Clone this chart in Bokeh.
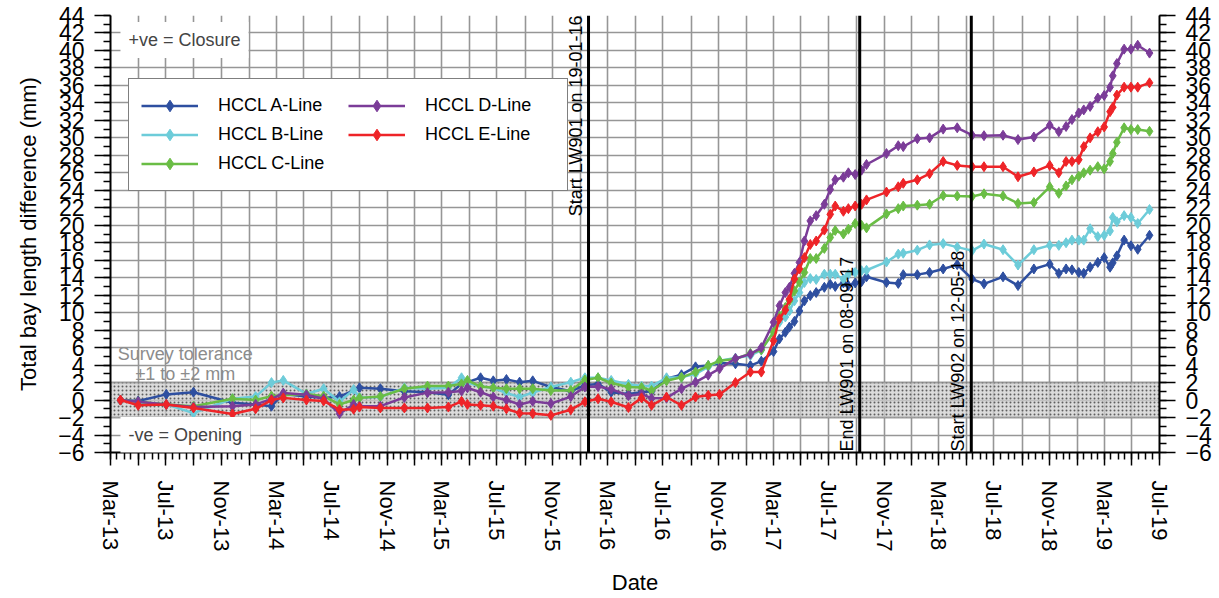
import pandas as pd
from math import pi
from bokeh.plotting import figure
from bokeh.models import (ColumnDataSource, Range1d, FixedTicker, LinearAxis, Span, Label,
                          BoxAnnotation, Legend, LegendItem, CustomJSTickFormatter)
from bokeh.embed import file_html
from bokeh.resources import INLINE

# ---------------- data ----------------
survey_dates = [
    "2013-03-23", "2013-05-01", "2013-07-02", "2013-08-31", "2013-11-25", "2014-01-15", "2014-02-19", "2014-03-17", "2014-05-07", "2014-06-14",
    "2014-07-19", "2014-08-19", "2014-09-01", "2014-10-17", "2014-12-09", "2015-01-29", "2015-03-16", "2015-04-14", "2015-04-27", "2015-05-26",
    "2015-06-23", "2015-07-22", "2015-08-20", "2015-09-18", "2015-10-28", "2015-12-11", "2016-01-11", "2016-02-09", "2016-03-09", "2016-04-16",
    "2016-05-15", "2016-06-06", "2016-07-09", "2016-08-11", "2016-09-11", "2016-10-09", "2016-11-03", "2016-12-08", "2017-01-10", "2017-02-03",
    "2017-03-02", "2017-03-15", "2017-03-28", "2017-04-06", "2017-04-17", "2017-04-28", "2017-05-09", "2017-05-22", "2017-06-04", "2017-06-22",
    "2017-07-05", "2017-07-16", "2017-08-03", "2017-08-14", "2017-08-29", "2017-09-12", "2017-09-23", "2017-11-06", "2017-12-02", "2017-12-13",
    "2018-01-13", "2018-02-09", "2018-03-11", "2018-04-11", "2018-05-14", "2018-06-09", "2018-07-21", "2018-08-23", "2018-09-27", "2018-11-01",
    "2018-11-21", "2018-12-07", "2018-12-20", "2019-01-04", "2019-01-15", "2019-01-29", "2019-02-15", "2019-03-01", "2019-03-14", "2019-03-20",
    "2019-03-29", "2019-04-14", "2019-04-29", "2019-05-14", "2019-06-09",
]

a_line = [0, -0.1, 0.65, 0.9, -0.3, -0.5, -0.7, 0.7, 0.4, 0.25,
          0.4, None, 1.4, 1.3, 1.0, 0.9, 0.6, 1.85, 2.05, 2.55,
          2.2, 2.35, 2.05, 2.2, 1.5, 1.0, 1.7, 1.85, 0.9, 0.7,
          0.9, 1.0, 2.45, 2.9, 3.8, 3.95, 4.25, 4.15, 3.95, 4.45,
          5.55, 7.0, 7.75, 8.35, 9.0, 10.2, 11.35, 11.95, 12.3, 12.9,
          13.25, 13.0, 13.4, 13.1, 13.4, 13.55, 14.1, 13.45, 13.35, 14.35,
          14.35, 14.6, 15.0, 15.5, 13.85, 13.3, 14.1, 13.1, 15.0, 15.55,
          14.5, 15.0, 14.9, 14.6, 14.5, 15.2, 15.75, 16.3, 15.2, 15.7,
          16.5, 18.3, 17.65, 17.25, 18.85]

b_line = [0, -0.3, -0.5, -1.5, 0.15, 0.4, 2.0, 2.25, 0.7, 1.3,
          -0.2, 1.2, 0.3, 0.35, 1.4, 1.3, 1.4, 2.55, 2.0, 1.55,
          1.4, 0.8, 0.35, 0.85, 1.5, 2.05, 2.55, 2.55, 2.25, 1.8,
          1.6, 1.6, 2.55, 2.6, 3.0, 3.8, 4.5, 4.8, 5.1, 5.7,
          7.8, 8.9, 9.5, 10.2, 11.35, 12.3, 13.45, 13.9, 13.8, 14.4,
          14.4, 14.4, 13.85, 14.4, 14.6, 14.8, 14.85, 15.8, 16.7, 16.8,
          17.15, 17.75, 17.9, 17.5, 17.1, 17.85, 17.2, 15.45, 17.2, 17.7,
          17.7, 18.0, 18.3, 18.3, 18.3, 19.6, 18.7, 18.85, 19.35, 20.9,
          20.4, 21.1, 20.9, 20.2, 21.8]

c_line = [0, -0.2, -0.5, -0.7, 0.15, 0.0, 0.45, 0.55, 0.7, 0.45,
          -0.5, 0.0, 0.25, 0.4, 1.3, 1.6, 1.6, 1.85, 2.25, 1.55,
          1.4, 1.3, 1.3, 1.3, 1.1, 1.1, 2.3, 2.55, 1.95, 1.5,
          1.45, 1.1, 2.2, 2.6, 3.2, 3.95, 4.5, 4.7, 5.35, 5.75,
          7.75, 9.65, 10.6, 11.35, 12.5, 13.5, 14.6, 16.2, 16.2, 17.35,
          18.6, 19.4, 19.0, 19.55, 20.2, 20.0, 19.7, 21.3, 21.9, 22.2,
          22.3, 22.4, 23.4, 23.35, 23.3, 23.6, 23.35, 22.5, 22.6, 24.4,
          23.65, 24.5, 25.2, 25.6, 26.0, 26.3, 26.7, 26.45, 27.3, 28.2,
          29.5, 31.15, 30.95, 30.95, 30.75]

d_line = [0, -0.2, -0.5, -0.8, -0.7, -0.5, 0.1, 0.8, 0.6, 0.15,
          -1.55, -0.5, -0.7, -0.7, 0.3, 0.85, 0.9, 1.05, 1.4, 0.9,
          0.35, 0.0, -0.5, -0.15, -0.4, 0.4, 1.5, 1.55, 1.25, 0.5,
          0.7, 0.2, 0.25, 1.3, 2.05, 2.85, 3.6, 4.75, 5.25, 6.0,
          8.9, 10.8, 12.3, 12.9, 14.5, 15.75, 18.2, 20.5, 21.1, 22.4,
          24.1, 25.2, 25.5, 26.0, 25.8, 26.3, 26.95, 28.2, 29.1, 29.0,
          29.9, 30.0, 31.0, 31.15, 30.3, 30.25, 30.3, 29.8, 30.1, 31.45,
          30.7, 31.3, 32.1, 32.85, 33.2, 33.6, 34.55, 34.85, 35.8, 37.1,
          38.5, 40.15, 40.15, 40.6, 39.7]

e_line = [0, -0.6, -0.5, -0.9, -1.6, -1.0, 0.0, 0.25, 0.0, -0.1,
          -1.1, -1.05, -0.8, -0.9, -0.9, -0.9, -0.8, -0.15, -0.5, -0.6,
          -0.7, -1.0, -1.5, -1.55, -1.75, -1.1, -0.2, 0.15, -0.2, -0.85,
          0.25, -0.6, 0.35, -0.6, 0.35, 0.55, 0.65, 2.0, 3.2, 3.2,
          6.8, 9.3, 10.3, 11.55, 13.85, 15.0, 16.3, 17.8, 18.2, 19.45,
          21.25, 22.2, 21.6, 21.9, 22.2, 22.4, 22.9, 23.8, 24.4, 24.8,
          25.2, 25.9, 27.3, 26.85, 26.7, 26.7, 26.7, 25.55, 26.1, 26.85,
          26.0, 27.3, 27.3, 27.5, 29.0, 30.0, 30.7, 31.25, 33.0, 33.5,
          34.9, 35.8, 35.8, 35.8, 36.3]

series_names = ["HCCL A-Line", "HCCL B-Line", "HCCL C-Line", "HCCL D-Line", "HCCL E-Line"]
series_values = [a_line, b_line, c_line, d_line, e_line]
series_colors = ["#2E4FA0", "#6DCCD9", "#6ABD45", "#7B3C98", "#EE2428"]

event_dates = ["2016-01-19", "2017-09-08", "2018-05-12"]
event_labels = ["Start LW901 on 19-01-16", "End LW901 on 08-09-17", "Start LW902 on 12-05-18"]

x_start, x_end = "2013-03-01", "2019-07-01"
y_min, y_max = -6, 44
y_ticks = list(range(-6, 45, 2))
y_minor = list(range(-6, 45, 1))
tol_low, tol_high = -2, 2

FONT = "Liberation Sans"

# ---------------- figure ----------------
p = figure(width=1219, height=598, x_axis_type="datetime",
           x_range=Range1d(pd.Timestamp(x_start), pd.Timestamp(x_end)),
           y_range=Range1d(y_min, y_max),
           output_backend="svg", toolbar_location=None,
           min_border_left=110, min_border_right=60, min_border_top=15, min_border_bottom=144)
p.outline_line_color = None
p.background_fill_color = "white"
p.border_fill_color = "white"

major_x = pd.date_range(x_start, x_end, freq="2MS")
minor_x = pd.date_range(x_start, x_end, freq="SMS")
to_ms = lambda idx: [int(t.value // 10**6) for t in idx]

p.xaxis.ticker = FixedTicker(ticks=to_ms(major_x), minor_ticks=to_ms(minor_x))
p.xaxis.formatter = CustomJSTickFormatter(code="""
const d = new Date(tick);
const m = d.getUTCMonth();
if (m !== 2 && m !== 6 && m !== 10) { return ""; }
const names = ["Jan","Feb","Mar","Apr","May","Jun","Jul","Aug","Sep","Oct","Nov","Dec"];
return names[m] + "-" + String(d.getUTCFullYear()).slice(2);
""")
p.yaxis.ticker = FixedTicker(ticks=y_ticks, minor_ticks=y_minor)

right_axis = LinearAxis(ticker=FixedTicker(ticks=y_ticks, minor_ticks=y_minor))
p.add_layout(right_axis, "right")

for ax in p.yaxis + [right_axis]:
    ax.axis_line_color = "black"
    ax.axis_line_width = 2
    ax.major_tick_line_color = "black"
    ax.major_tick_line_width = 1.5
    ax.minor_tick_line_color = "black"
    ax.minor_tick_line_width = 1.5
    ax.major_tick_out = 16
    ax.major_tick_in = 0
    ax.minor_tick_out = 7
    ax.minor_tick_in = 0
    ax.major_label_text_font = FONT
    ax.major_label_text_font_size = "23px"
    ax.major_label_text_color = "black"
    ax.major_label_standoff = 10

p.yaxis[0].axis_label = "Total bay length difference (mm)"
p.yaxis[0].axis_label_text_font = FONT
p.yaxis[0].axis_label_text_font_size = "22px"
p.yaxis[0].axis_label_text_font_style = "normal"
p.yaxis[0].axis_label_text_color = "black"
p.yaxis[0].axis_label_standoff = 14

xa = p.xaxis[0]
xa.axis_line_color = "black"
xa.axis_line_width = 2
xa.major_tick_line_color = "black"
xa.major_tick_line_width = 1.5
xa.minor_tick_line_color = "black"
xa.minor_tick_line_width = 1.5
xa.major_tick_out = 13
xa.major_tick_in = 0
xa.minor_tick_out = 7
xa.minor_tick_in = 0
xa.major_label_orientation = "vertical"
xa.major_label_text_font = FONT
xa.major_label_text_font_size = "22px"
xa.major_label_text_color = "black"
xa.major_label_standoff = 15
xa.axis_label = "Date"
xa.axis_label_text_font = FONT
xa.axis_label_text_font_size = "22px"
xa.axis_label_text_font_style = "normal"
xa.axis_label_text_color = "black"
xa.axis_label_standoff = 16

p.xgrid.grid_line_color = "#969696"
p.xgrid.grid_line_width = 1.6
p.ygrid.grid_line_color = "#969696"
p.ygrid.grid_line_width = 1.6

# tolerance band
band = BoxAnnotation(bottom=tol_low, top=tol_high, fill_color="#cfcfcf", fill_alpha=0.75,
                     hatch_pattern="dot", hatch_color="#5e5e5e", hatch_scale=4, hatch_weight=3,
                     line_color="#808080", line_width=2.5, level="underlay")
p.add_layout(band)

# series
items = []
dates = pd.to_datetime(survey_dates)
for name, vals, color in zip(series_names, series_values, series_colors):
    xs = [d for d, v in zip(dates, vals) if v is not None]
    ys = [v for v in vals if v is not None]
    src = ColumnDataSource(dict(x=xs, y=ys))
    r_line = p.line("x", "y", source=src, line_color=color, line_width=2.5)
    r_mark = p.scatter("x", "y", source=src, marker="diamond", size=10, fill_color=color, line_color=color)
    items.append(LegendItem(label=name, renderers=[r_line, r_mark]))

legend = Legend(items=items, location=(18, 261), nrows=3, orientation="vertical",
                border_line_color="black", border_line_width=1,
                background_fill_color="white", background_fill_alpha=1,
                label_text_font=FONT, label_text_font_size="18px", label_text_color="black",
                glyph_width=57, glyph_height=29, label_height=29, label_width=130,
                label_standoff=20, spacing=0, padding=12, margin=0)
p.add_layout(legend)

# event lines
for i, (d, txt) in enumerate(zip(event_dates, event_labels)):
    t = pd.Timestamp(d)
    p.add_layout(Span(location=t, dimension="height", line_color="black", line_width=3))
    if i == 0:
        lab = Label(x=t, y=y_max, text=txt, angle=pi / 2, text_align="right", text_baseline="bottom",
                    x_offset=-3, text_font=FONT, text_font_size="18px", text_color="black")
    else:
        lab = Label(x=t, y=y_min, text=txt, angle=pi / 2, text_align="left", text_baseline="bottom",
                    x_offset=-3, y_offset=1, text_font=FONT, text_font_size="18px", text_color="black")
    p.add_layout(lab)

# notes
note_x = pd.Timestamp("2013-03-23")
p.add_layout(Label(x=note_x, y=41.2, text="+ve = Closure", text_font=FONT, text_font_size="18px",
                   text_baseline="middle", background_fill_color="white", padding=8))
p.add_layout(Label(x=note_x, y=-4.0, text="-ve = Opening", text_font=FONT, text_font_size="18px",
                   text_baseline="middle", background_fill_color="white", padding=8))
tol_x = pd.Timestamp("2013-08-13")
p.add_layout(Label(x=tol_x, y=5.3, text="Survey tolerance", text_font=FONT, text_font_size="18px",
                   text_align="center", text_baseline="middle", text_color="#8c8c8c"))
p.add_layout(Label(x=tol_x, y=2.95, text="\u00b11 to \u00b12 mm", text_font=FONT, text_font_size="18px",
                   text_align="center", text_baseline="middle", text_color="#8c8c8c"))

open("out.html", "w").write(file_html(p, INLINE))
